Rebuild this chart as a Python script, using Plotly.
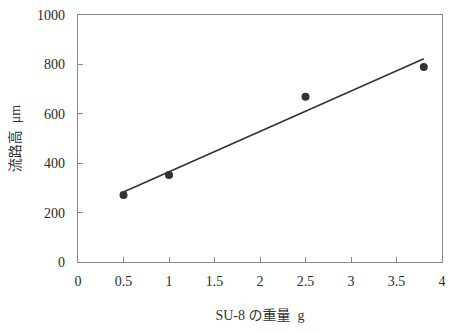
import numpy as np
import plotly.graph_objects as go

su8_weight_g = [0.5, 1.0, 2.5, 3.8]
channel_height_um = [271, 352, 669, 789]
x_ticks = [0, 0.5, 1, 1.5, 2, 2.5, 3, 3.5, 4]
x_tick_labels = ["0", "0.5", "1", "1.5", "2", "2.5", "3", "3.5", "4"]
y_ticks = [0, 200, 400, 600, 800, 1000]

# linear trendline fitted to data
slope, intercept = np.polyfit(su8_weight_g, channel_height_um, 1)
fit_x = [min(su8_weight_g), max(su8_weight_g)]
fit_y = [slope * v + intercept for v in fit_x]

fig = go.Figure()
fig.add_trace(go.Scatter(x=fit_x, y=fit_y, mode="lines",
                         line=dict(color="#333333", width=1.6), showlegend=False))
fig.add_trace(go.Scatter(x=su8_weight_g, y=channel_height_um, mode="markers",
                         marker=dict(color="#333333", size=8), showlegend=False))

axis_font = dict(family="Liberation Serif, Times New Roman, serif", size=14, color="#2a2a2a")
fig.update_layout(
    width=454, height=332,
    margin=dict(l=78, r=8, t=11, b=70),
    paper_bgcolor="white", plot_bgcolor="white",
    xaxis=dict(range=[0, 4], tickvals=x_ticks, ticktext=x_tick_labels,
               showgrid=False, zeroline=False, showline=True, mirror=True,
               linecolor="#888888", linewidth=1.2, ticks="inside", ticklen=5,
               tickcolor="#888888", tickfont=axis_font, ticklabelstandoff=6,
               title=dict(text="SU-8 の重量  g", standoff=22,
                          font=dict(family="Liberation Serif, Noto Sans CJK JP, serif", size=14, color="#333333"))),
    yaxis=dict(range=[0, 1000], tickvals=y_ticks,
               showgrid=False, zeroline=False, showline=True, mirror=True,
               linecolor="#888888", linewidth=1.2, ticks="inside", ticklen=5,
               tickcolor="#888888", tickfont=axis_font, ticklabelstandoff=9,
               title=dict(text="流路高  μm", standoff=13,
                          font=dict(family="Liberation Serif, Noto Sans CJK JP, serif", size=14, color="#333333"))),
)
fig.write_html("out.html")
